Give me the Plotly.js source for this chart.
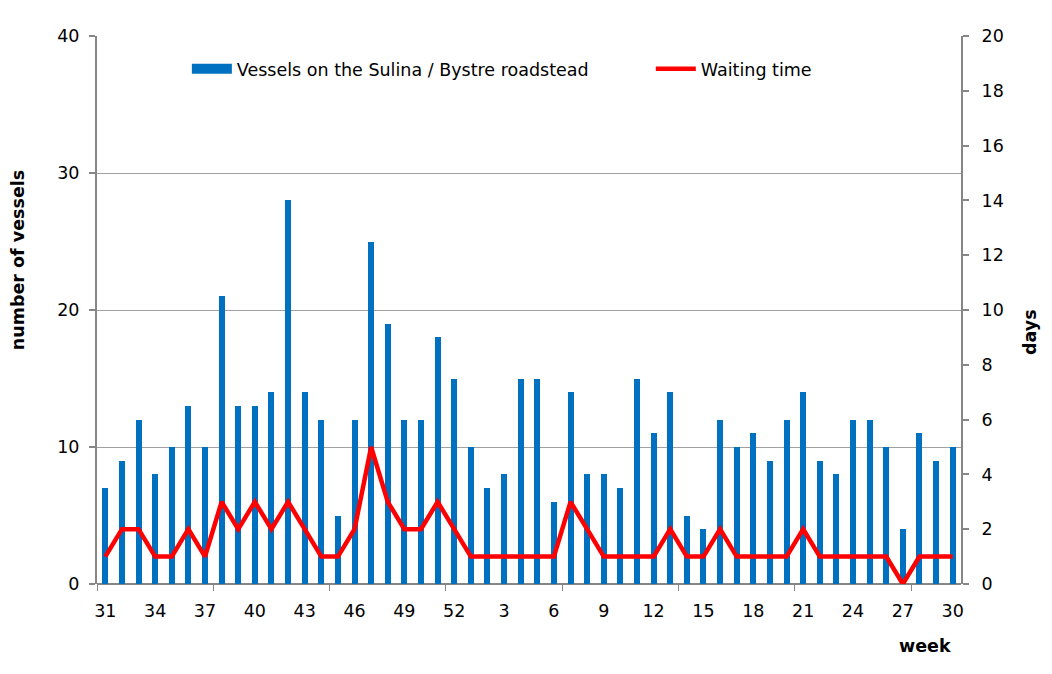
<!DOCTYPE html>
<html>
<head>
<meta charset="utf-8">
<script src="https://cdn.plot.ly/plotly-3.0.1.min.js"></script>
<style>
  html, body { margin: 0; padding: 0; background: #fff; }
  #chart { width: 1052px; height: 674px; }
</style>
</head>
<body>
<div id="chart"></div>
<script>
// week numbers, from week 31 through 52 and on into the next year up to 30
const weeks = [31, 32, 33, 34, 35, 36, 37, 38, 39, 40, 41, 42, 43, 44, 45, 46, 47, 48, 49, 50, 51, 52,
               1, 2, 3, 4, 5, 6, 7, 8, 9, 10, 11, 12, 13, 14, 15, 16, 17, 18, 19, 20, 21, 22, 23, 24, 25, 26, 27, 28, 29, 30];

// vessels on the roadstead (left axis)
const vessels = [7, 9, 12, 8, 10, 13, 10, 21, 13, 13, 14, 28, 14, 12, 5, 12, 25, 19, 12, 12, 18, 15,
                 10, 7, 8, 15, 15, 6, 14, 8, 8, 7, 15, 11, 14, 5, 4, 12, 10, 11, 9, 12, 14, 9, 8, 12, 12, 10, 4, 11, 9, 10];

// waiting time in days (right axis)
const waitDays = [1, 2, 2, 1, 1, 2, 1, 3, 2, 3, 2, 3, 2, 1, 1, 2, 5, 3, 2, 2, 3, 2,
                  1, 1, 1, 1, 1, 1, 3, 2, 1, 1, 1, 1, 2, 1, 1, 2, 1, 1, 1, 1, 2, 1, 1, 1, 1, 1, 0, 1, 1, 1];

const barName = 'Vessels on the Sulina / Bystre roadstead';
const lineName = 'Waiting time';

const FONT = 'Tahoma, "DejaVu Sans", sans-serif';
const FS = 17.5;
const AXIS_GREY = '#868686';
const BLUE = '#0070C0';
const RED = '#FF0000';

const xIdx = weeks.map((w, i) => i);
// label every third week, starting from the first one
const tickIdx = xIdx.filter(i => i % 3 === 0);
const tickText = tickIdx.map(i => String(weeks[i]));

const traces = [
    {
        type: 'bar',
        x: xIdx,
        y: vessels,
        name: barName,
        width: 0.36,
        marker: { color: BLUE },
        showlegend: false,
        hoverinfo: 'skip'
    },
    // legend stand-in so the key shows a wide flat block like the original
    {
        type: 'scatter',
        mode: 'lines',
        x: [null],
        y: [null],
        name: barName,
        legend: 'legend',
        line: { color: BLUE, width: 10 },
        hoverinfo: 'skip'
    },
    {
        type: 'scatter',
        mode: 'lines',
        x: xIdx,
        y: waitDays,
        yaxis: 'y2',
        name: lineName,
        legend: 'legend2',
        line: { color: RED, width: 4.5 },
        hoverinfo: 'skip'
    }
];

const legendBase = {
    orientation: 'h',
    xanchor: 'left',
    y: 0.94,
    yanchor: 'middle',
    font: { family: FONT, size: FS, color: '#000' },
    itemwidth: 40,
    bgcolor: 'rgba(0,0,0,0)'
};

const layout = {
    width: 1052,
    height: 674,
    margin: { l: 97, r: 91, t: 36, b: 90 },
    paper_bgcolor: '#fff',
    plot_bgcolor: '#fff',
    font: { family: FONT, size: FS, color: '#000' },
    showlegend: true,
    legend: Object.assign({}, legendBase, { x: 0.104 }),
    legend2: Object.assign({}, legendBase, { x: 0.641 }),
    bargap: 0,
    xaxis: {
        range: [-0.5, weeks.length - 0.5],
        tickmode: 'array',
        tickvals: tickIdx,
        ticktext: tickText,
        ticks: 'outside',
        ticklen: 11,
        tickcolor: 'rgba(0,0,0,0)',
        showgrid: false,
        zeroline: false,
        showline: false,
        minor: {
            tick0: -0.5,
            dtick: 7,
            ticks: 'outside',
            ticklen: 6,
            tickwidth: 1,
            tickcolor: AXIS_GREY,
            showgrid: false
        },
        fixedrange: true
    },
    yaxis: {
        range: [0, 40],
        dtick: 10,
        ticks: 'outside',
        ticklen: 6,
        tickwidth: 2,
        tickcolor: AXIS_GREY,
        showline: true,
        linecolor: AXIS_GREY,
        linewidth: 2,
        showgrid: true,
        gridcolor: '#A0A0A0',
        gridwidth: 1,
        zeroline: true,
        zerolinecolor: AXIS_GREY,
        zerolinewidth: 2,
        ticklabelstandoff: 6,
        fixedrange: true
    },
    yaxis2: {
        overlaying: 'y',
        side: 'right',
        range: [0, 20],
        dtick: 2,
        ticks: 'outside',
        ticklen: 6,
        tickwidth: 2,
        tickcolor: AXIS_GREY,
        showline: true,
        linecolor: AXIS_GREY,
        linewidth: 2,
        showgrid: false,
        zeroline: false,
        ticklabelstandoff: 9,
        fixedrange: true
    },
    annotations: [
        {
            text: '<b>number of vessels</b>',
            xref: 'paper', yref: 'paper',
            x: -0.092, y: 0.59,
            xanchor: 'center', yanchor: 'middle',
            textangle: -90,
            showarrow: false,
            font: { family: FONT, size: FS, color: '#000' }
        },
        {
            text: '<b>days</b>',
            xref: 'paper', yref: 'paper',
            x: 1.08, y: 0.46,
            xanchor: 'center', yanchor: 'middle',
            textangle: -90,
            showarrow: false,
            font: { family: FONT, size: FS, color: '#000' }
        },
        {
            text: '<b>week</b>',
            xref: 'paper', yref: 'paper',
            x: 0.958, y: -0.113,
            xanchor: 'center', yanchor: 'middle',
            showarrow: false,
            font: { family: FONT, size: FS, color: '#000' }
        }
    ]
};

Plotly.newPlot('chart', traces, layout, { displayModeBar: false, staticPlot: true });
</script>
</body>
</html>
